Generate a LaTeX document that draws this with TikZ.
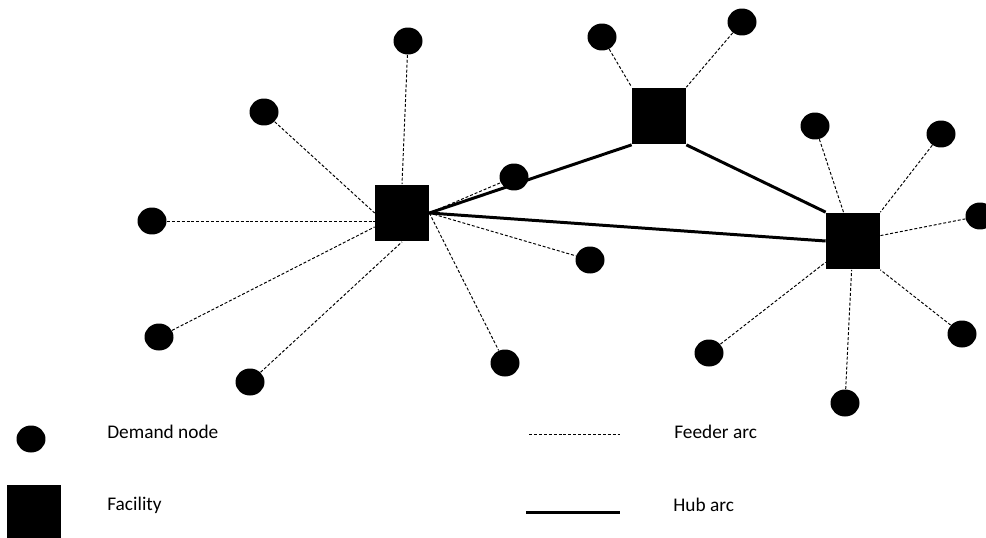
\documentclass[tikz,border=0pt]{standalone}
\usepackage{fontspec}
\setmainfont{Carlito}
\usetikzlibrary{shapes.geometric}
\tikzset{
  demand/.style = {ellipse, fill=black, inner sep=0pt, minimum width=0.58cm, minimum height=0.54cm},
  facility/.style = {rectangle, fill=black, inner sep=0pt, minimum width=1.08cm, minimum height=1.14cm},
  feeder/.style = {line width=0.55pt, dash pattern=on 1.7pt off 1.1pt},
  hub/.style = {line width=1.7pt},
  legend/.style = {anchor=west, inner sep=0pt, font=\fontsize{11}{13}\selectfont}
}

\begin{document}
\begin{tikzpicture}[x=0.02cm, y=-0.02cm]
    \clip (0,0) rectangle (986,537);

    %==== Facilities ====
    \node[facility] (F1) at (402,213) {};
    \node[facility] (F2) at (659,116) {};
    \node[facility] (F3) at (853,241) {};

    %==== Demand nodes ====
    % around F1
    \node[demand] (d1) at (408,41) {};
    \node[demand] (d2) at (264,112) {};
    \node[demand] (d3) at (152,221) {};
    \node[demand] (d4) at (159,337) {};
    \node[demand] (d5) at (250,382) {};
    \node[demand] (d6) at (514,177) {};
    \node[demand] (d7) at (590,260) {};
    \node[demand] (d8) at (505,363) {};
    % around F2
    \node[demand] (d9) at (602,37) {};
    \node[demand] (d10) at (742,22) {};
    % around F3
    \node[demand] (d11) at (815,126) {};
    \node[demand] (d12) at (941,134) {};
    \node[demand] (d13) at (980,216) {};
    \node[demand] (d14) at (962,334) {};
    \node[demand] (d15) at (845,403) {};
    \node[demand] (d16) at (709,353) {};

    %==== Feeder arcs ====
    \draw[feeder] (d1) -- (F1.north);
    \draw[feeder] (d2) -- (F1.west);
    \draw[feeder] (d3) -- (d3 -| F1.west);
    \draw[feeder] (d4) -- (F1);
    \draw[feeder] (d5) -- (F1.south);
    \draw[feeder] (F1.east) -- (d6);
    \draw[feeder] (F1.east) -- (d7);
    \draw[feeder] (F1.east) -- (d8);

    \draw[feeder] (d9) -- (F2.north west);
    \draw[feeder] (d10) -- (F2.north east);

    \draw[feeder] (d11) -- (F3);
    \draw[feeder] (d12) -- (F3.north east);
    \draw[feeder] (d13) -- (F3);
    \draw[feeder] (d14) -- (F3.south east);
    \draw[feeder] (d15) -- (F3);
    \draw[feeder] (d16) -- (F3);

    %==== Hub arcs ====
    \draw[hub] (F1.east) -- (F2.south west);
    \draw[hub] (F1.east) -- (F3.west);
    \draw[hub] (F2.south east) -- (F3.north west);

    %==== Legend ====
    \node[demand] (keyDemand) at (31,439) {};
    \node[facility] (keyFacility) at (34,513) {};
    \node[legend] (txtDemand) at (107,432) {Demand node};
    \node[legend] (txtFacility) at (107,505) {Facility};

    \coordinate (feederA) at (529,434);
    \coordinate (feederB) at (620,434);
    \coordinate (hubA) at (526,512);
    \coordinate (hubB) at (620,512);
    \draw[feeder] (feederA) -- (feederB);
    \draw[hub] (hubA) -- (hubB);
    \node[legend] (txtFeeder) at (674,432) {Feeder arc};
    \node[legend] (txtHub) at (673,505) {Hub arc};
\end{tikzpicture}
\end{document}
